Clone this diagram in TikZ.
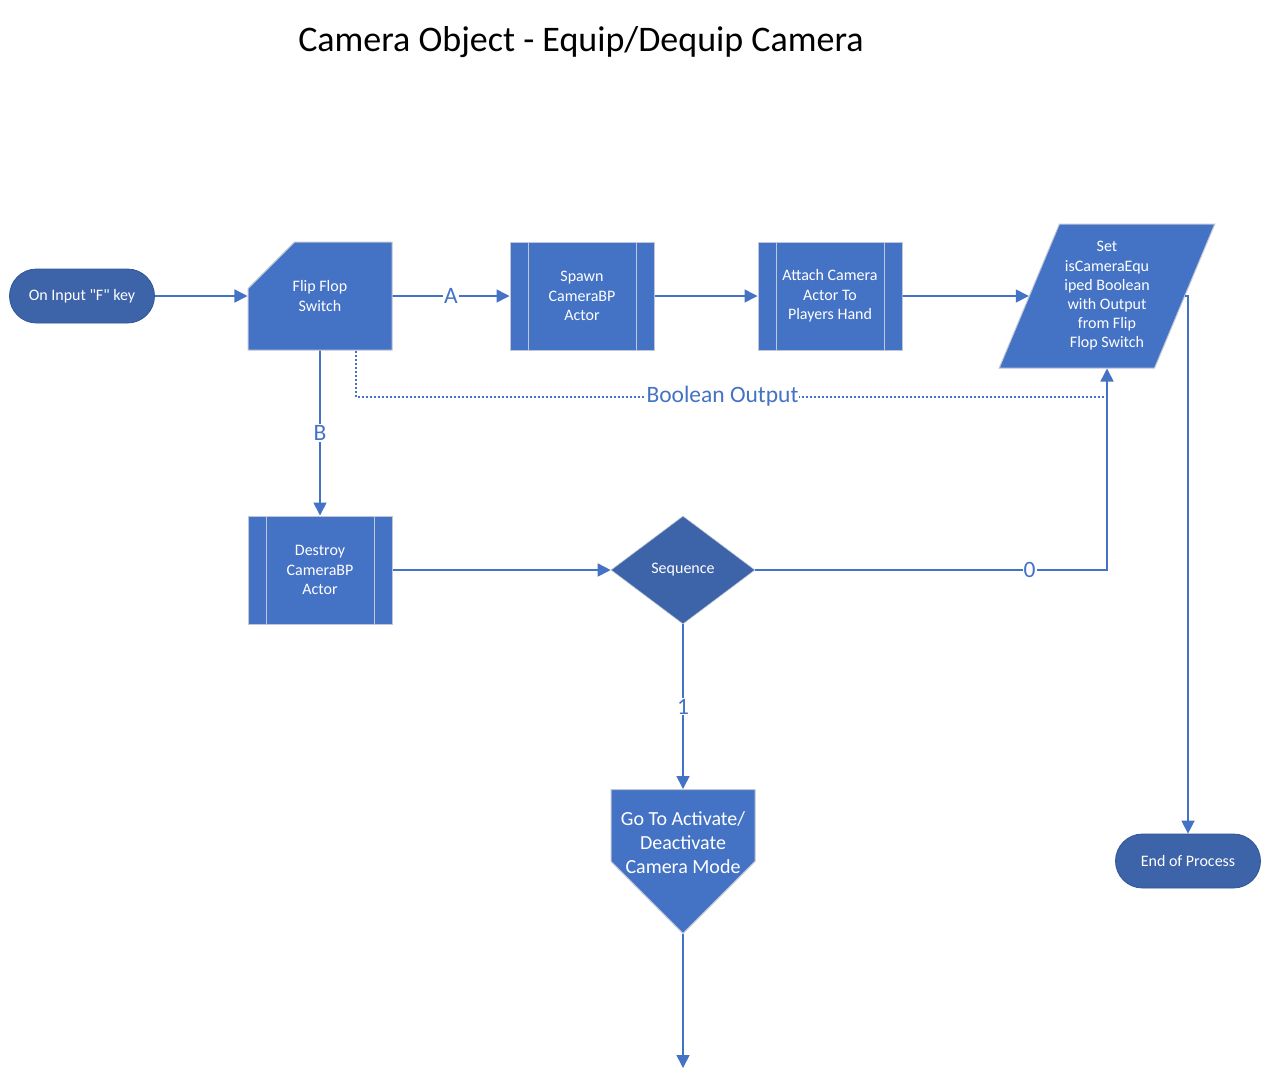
\documentclass[tikz,border=0pt]{standalone}
\usepackage{fontspec}
\setmainfont{Carlito}
\usepackage{tikz}
\usetikzlibrary{arrows.meta,positioning,calc,shapes.geometric,shapes.misc,shapes.symbols}
\definecolor{fblue}{HTML}{4472C4}
\definecolor{fblued}{HTML}{3D63A9}
\definecolor{fedge}{HTML}{BFC6D6}
\definecolor{tedge}{HTML}{2F5597}
\tikzset{
  % white text on the blue fill, pale rim
  proc/.style   = {rectangle, fill=fblue, draw=fedge, line width=1pt, text=white,
                   align=center, inner sep=2pt, minimum width=144pt, minimum height=108pt,
                   font=\fontsize{16}{19.5}\selectfont},
  subproc/.style = {proc, path picture={
                     \draw[fedge, line width=1pt] ([xshift=18pt]path picture bounding box.north west)
                       -- ([xshift=18pt]path picture bounding box.south west);
                     \draw[fedge, line width=1pt] ([xshift=-18pt]path picture bounding box.north east)
                       -- ([xshift=-18pt]path picture bounding box.south east);}},
  card/.style   = {proc, chamfered rectangle, chamfered rectangle corners=north west,
                   chamfered rectangle xsep=38pt, chamfered rectangle ysep=38pt},
  term/.style   = {rectangle, rounded corners=27pt, fill=fblued, draw=tedge, line width=0.8pt,
                   text=white, minimum width=145pt, minimum height=54pt,
                   font=\fontsize{16}{19.5}\selectfont},
  io/.style     = {proc, trapezium, trapezium left angle=63.4, trapezium right angle=116.6,
                   trapezium stretches=true, minimum width=216pt, minimum height=144pt,
                   font=\fontsize{16}{19.2}\selectfont},
  decide/.style = {diamond, fill=fblued, draw=fedge, line width=0.6pt, text=white, inner sep=0pt,
                   minimum width=144pt, minimum height=108pt, font=\fontsize{16}{19.5}\selectfont},
  offpage/.style = {proc, signal, signal to=south, signal from=nowhere, signal pointer angle=90,
                   minimum width=144pt, minimum height=136pt, font=\fontsize{20}{24}\selectfont},
  flow/.style   = {-{Triangle[length=13pt,width=13pt]}, fblue, line width=1.6pt},
  bool/.style   = {fblue, line width=2pt, dash pattern=on 2pt off 2pt},
  elbl/.style   = {font=\fontsize{23.5}{26}\selectfont, text=fblue, fill=white, inner sep=1pt},
}
\begin{document}
\begin{tikzpicture}[x=1pt,y=-1pt]
\useasboundingbox (0,0) rectangle (1271,1080);
\node[font=\fontsize{36}{40}\selectfont] (title) at (581,42) {Camera Object - Equip/Dequip Camera};
% top row
\node[term] (start) at (82,296) {On Input \textquotedbl F\textquotedbl{} key};
\node[card] (flip) at (320,296) {Flip Flop\\Switch};
\node[subproc] (spawn) at (582,296) {Spawn\\CameraBP\\Actor};
\node[subproc] (attach) at (830,296) {Attach Camera\\Actor To\\Players Hand};
\node[io] (setb) at (1107,296) {Set\\isCameraEqu\\iped Boolean\\with Output\\from Flip\\Flop Switch};
% lower part
\node[subproc] (destroy) at (320,570) {Destroy\\CameraBP\\Actor};
\node[decide] (seq) at (683,570) {Sequence};
\node[offpage, anchor=north] (goto) at (683,789)
  {\raisebox{-24pt}[0pt][0pt]{\begin{tabular}{@{}c@{}}Go To Activate/\\Deactivate\\Camera Mode\end{tabular}}};
\node[term] (endp) at (1188,861) {End of Process};
\coordinate (offend) at (683,1068);
% connectors
\draw[flow] (start) -- (flip);
\draw[flow] (flip) -- node[elbl] {A} (spawn);
\draw[flow] (spawn) -- (attach);
\draw[flow] (attach) -- (setb);
\draw[flow] (setb.east) -| (endp.north);
\draw[flow] (flip) -- node[elbl] {B} (destroy);
\draw[flow] (destroy) -- (seq);
\draw[flow] (seq.east) -| node[elbl, pos=0.39] {0} (setb.south);
\draw[flow] (seq.south) -- node[elbl] {1} (goto.north);
\draw[flow] (goto.south) -- (offend);
\draw[bool] ([xshift=36pt]flip.south) |- node[elbl, pos=0.744] {Boolean Output} ($(setb.south)+(0,28)$);
\end{tikzpicture}
\end{document}
